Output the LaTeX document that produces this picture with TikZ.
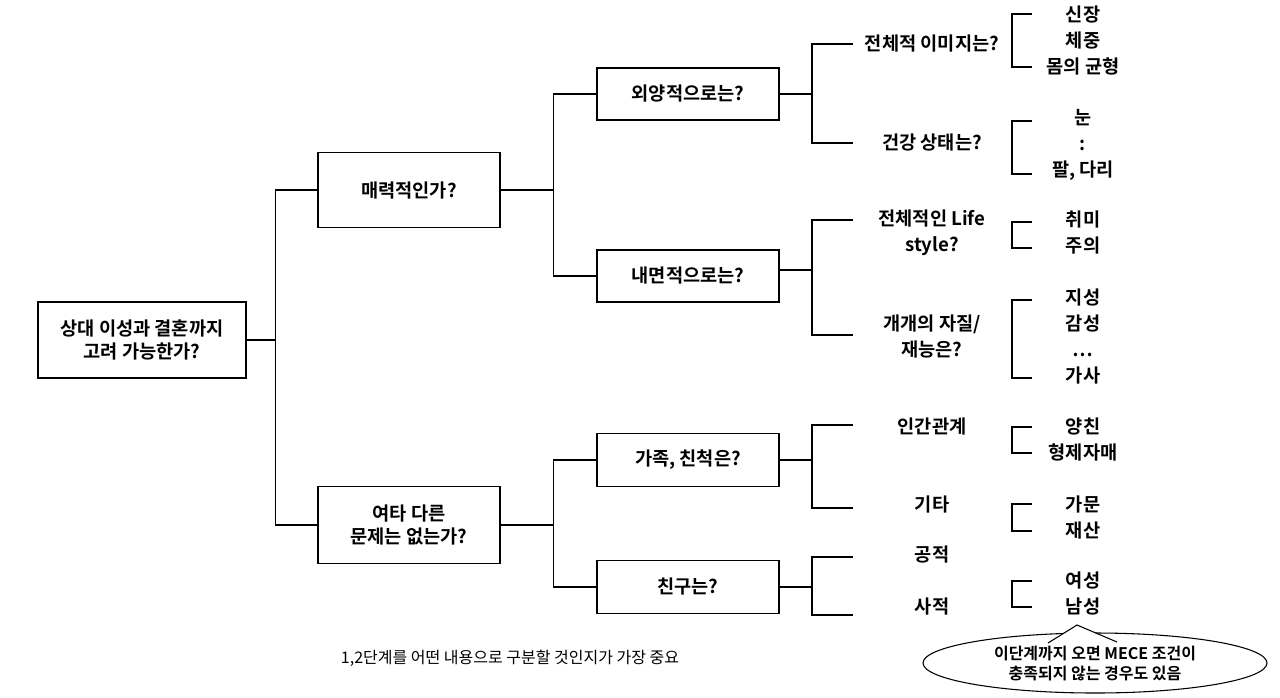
\documentclass[tikz,border=0pt]{standalone}
\usetikzlibrary{shapes.geometric}
\usepackage{fontspec}
\setmainfont{Noto Sans CJK KR}[BoldFont={* Bold}]
\begin{document}
\begin{tikzpicture}[x=0.75pt,y=-0.75pt,
  box/.style={draw,line width=0.8pt,minimum width=136.5pt,minimum height=#1,inner sep=0pt,font=\fontsize{14}{17}\selectfont\bfseries,align=center},
  lbl/.style={font=\fontsize{14}{19.5}\selectfont\bfseries,align=center,inner sep=0pt},
  ln/.style={line width=0.8pt}]
\useasboundingbox (0,0) rectangle (1280,697);
\node[box=57pt,minimum width=156pt] (root) at (142,340) {상대 이성과 결혼까지\\고려 가능한가?};
\node[box=56pt] (a) at (409,190) {매력적인가?};
\node[box=58pt] (b) at (409,525) {여타 다른\\문제는 없는가?};
\node[box=39pt] (a1) at (688,94) {외양적으로는?};
\node[box=39pt] (a2) at (688,276) {내면적으로는?};
\node[box=40pt] (b1) at (688,460) {가족, 친척은?};
\node[box=40pt] (b2) at (688,587) {친구는?};
\draw[ln] (root.east) -- ++(29,0) coordinate (j0);
\draw[ln] (a.west) -| (j0) |- (b.west);
\draw[ln] (a.east) -- ++(53,0) coordinate (j1);
\draw[ln] (a1.west) -| (j1) |- (a2.west);
\draw[ln] (b.east) -- ++(53,0) coordinate (j2);
\draw[ln] (b1.west) -| (j2) |- (b2.west);
% level 3
\node[lbl] (l1) at (932,44) {전체적 이미지는?};
\node[lbl] (l2) at (932,143) {건강 상태는?};
\node[lbl] (l3) at (932,233) {전체적인 Life\\style?};
\node[lbl] (l4) at (932,336) {개개의 자질/\\재능은?};
\node[lbl] (l5) at (932,426) {인간관계};
\node[lbl] (l6) at (932,504) {기타};
\node[lbl] (l7) at (932,555) {공적};
\node[lbl] (l8) at (932,607) {사적};
\foreach \p/\ya/\yb/\yc in {a1/44/143/94, a2/220/335/270, b1/425/508/460, b2/557/615/587}{
  \draw[ln] (\p.east|-0,\yc) -- (812,\yc);
  \draw[ln] (853,\ya) -- (812,\ya) -- (812,\yb) -- (853,\yb);
}
% level 4
\node[lbl] (m1) at (1083,41) {신장\\체중\\몸의 균형};
\node[lbl] (m2) at (1083,145) {눈\\:\\팔, 다리};
\node[lbl] (m3) at (1083,233) {취미\\주의};
\node[lbl] (m4) at (1083,337) {지성\\감성\\…\\가사};
\node[lbl] (m5) at (1083,440) {양친\\형제자매};
\node[lbl] (m6) at (1083,517) {가문\\재산};
\node[lbl] (m7) at (1083,593) {여성\\남성};
\foreach \ya/\yb in {14/67, 121/174, 222/248, 300/378, 427/453, 504/531, 581/607}{
  \draw[ln] (1032,\ya) -- (1012,\ya) -- (1012,\yb) -- (1032,\yb);
}
\node[font=\fontsize{12}{14}\selectfont,inner sep=0pt] (note) at (510,658) {1,2단계를 어떤 내용으로 구분할 것인지가 가장 중요};
\node[draw,ln,ellipse,minimum width=258pt,minimum height=45pt,inner sep=0pt,font=\fontsize{12}{15}\selectfont\bfseries,align=center] (call) at (1095,663) {이단계까지 오면 MECE 조건이\\충족되지 않는 경우도 있음};
\coordinate (tip) at (1077,625);
\fill[white] (1050,642) -- (tip) -- (1115,642) -- cycle;
\draw[ln] (1048,643) -- (tip) -- (1117,642);
\end{tikzpicture}
\end{document}
